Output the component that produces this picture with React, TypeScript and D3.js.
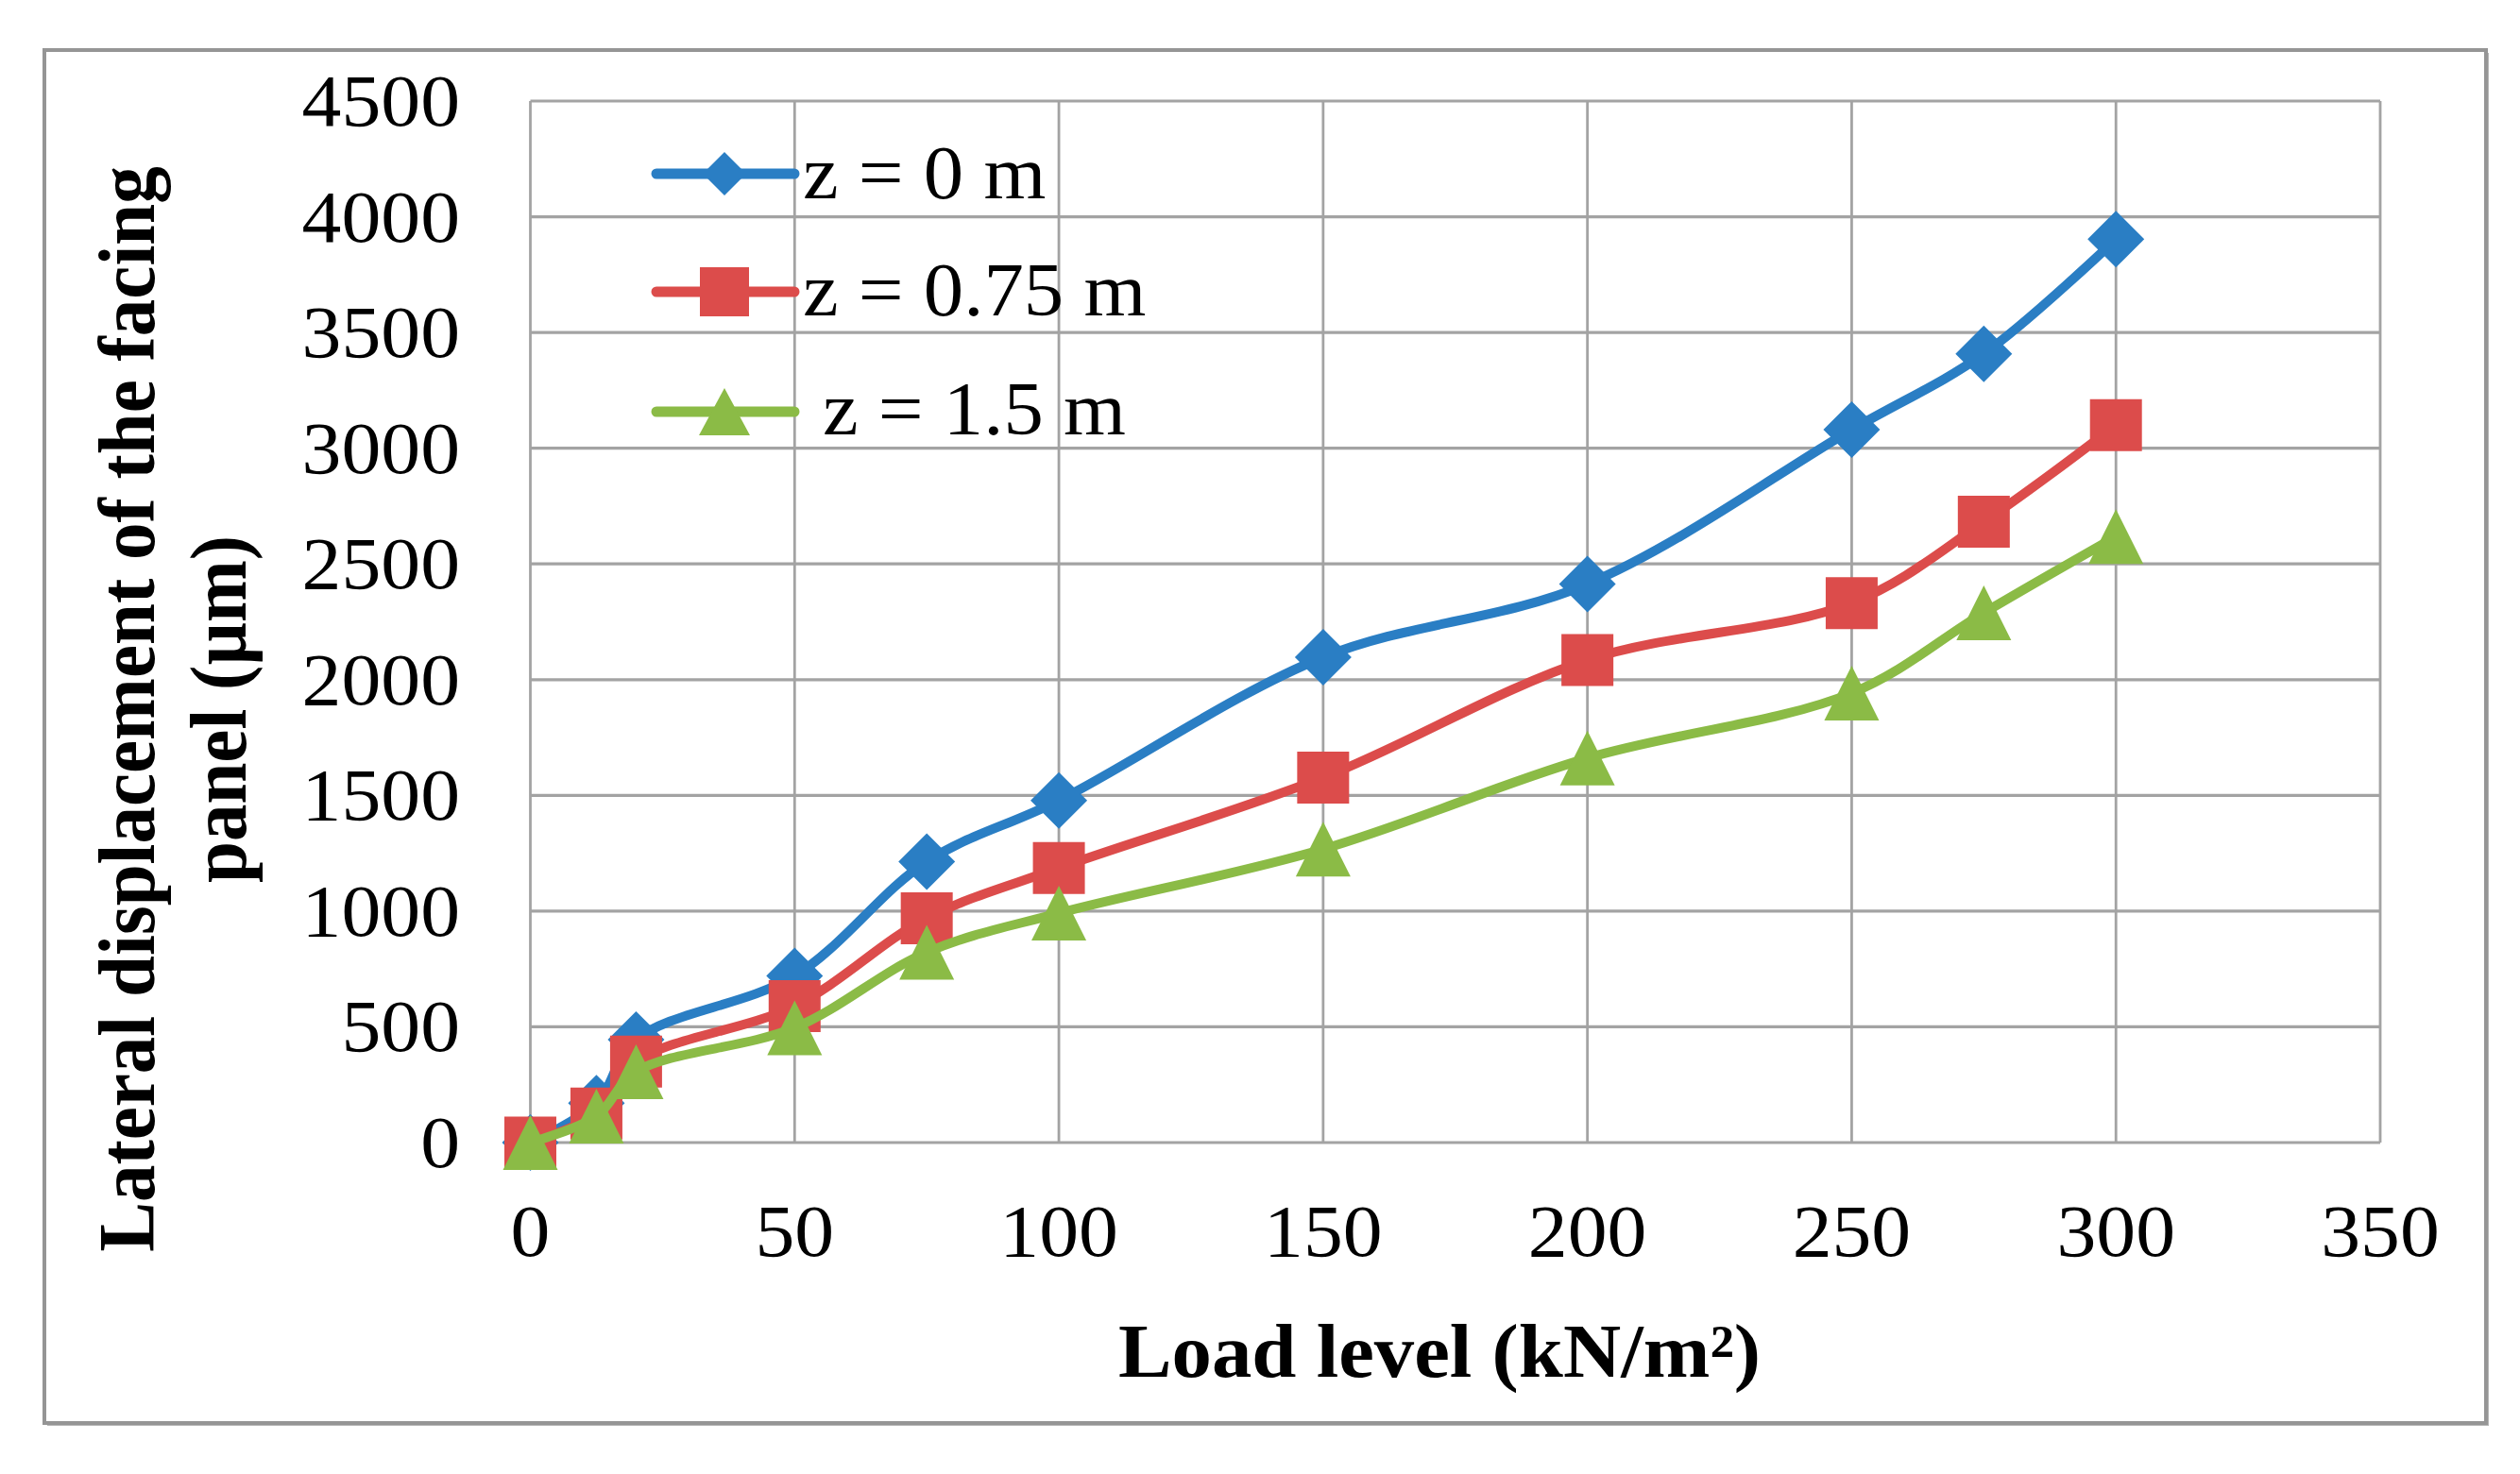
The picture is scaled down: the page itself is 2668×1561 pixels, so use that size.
import React from "react";
import * as d3 from "d3";

const loads = [0, 12.5, 20, 50, 75, 100, 150, 200, 250, 275, 300];
const z0 = [0, 170, 445, 720, 1214, 1478, 2097, 2413, 3080, 3408, 3903];
const z075 = [0, 125, 350, 590, 969, 1186, 1577, 2085, 2331, 2682, 3100];
const z15 = [0, 114, 306, 496, 822, 991, 1268, 1661, 1942, 2289, 2618];
const seriesNames = ["z = 0 m", "z = 0.75 m", "z = 1.5 m"];
const seriesColors = ["#2a7ec4", "#dc4c4b", "#8bbb46"];
const seriesMarkers = ["diamond", "square", "triangle"];
const xTicks = [0, 50, 100, 150, 200, 250, 300, 350];
const yTicks = [0, 500, 1000, 1500, 2000, 2500, 3000, 3500, 4000, 4500];
const xTitle = "Load level (kN/m²)";
const yTitle1 = "Lateral displacement of the facing";
const yTitle2 = "panel (µm)";

const W = 2668;
const H = 1561;
const FONT = "'Liberation Serif', 'Times New Roman', serif";
const SX = 1.06;

function markerPath(kind: string, big: boolean): string {
  if (kind === "diamond") {
    const r = big ? 30 : 23;
    return `M0,${-r}L${r},0L0,${r}L${-r},0Z`;
  }
  if (kind === "square") {
    const h = big ? 27.5 : 26;
    return `M${-h},${-h}L${h},${-h}L${h},${h}L${-h},${h}Z`;
  }
  const w = big ? 29 : 27;
  const t = big ? 29 : 25;
  return `M0,${-t}L${w},${t}L${-w},${t}Z`;
}

export default function App() {
  const x = d3.scaleLinear().domain([0, 350]).range([561.5, 2520]);
  const y = d3.scaleLinear().domain([0, 4500]).range([1210, 107]);
  const allSeries = [z0, z075, z15];
  const line = d3
    .line<[number, number]>()
    .x((d) => x(d[0]))
    .y((d) => y(d[1]))
    .curve(d3.curveCatmullRom.alpha(0.5));

  const legendY = [184, 309, 436];
  const legendTextX = [850, 850, 871];
  const legendTextY = [210, 334, 460];

  return (
    <svg
      width={W}
      height={H}
      style={{ position: "absolute", left: 0, top: 0, display: "block", background: "#fff" }}
    >
      <rect x={0} y={0} width={W} height={H} fill="#ffffff" />
      <rect x={50} y={56} width={2585} height={1454} fill="#b5b5b5" />
      <rect x={47} y={53} width={2585} height={1454} fill="#ffffff" stroke="#959595" strokeWidth={4} />

      {/* gridlines */}
      {yTicks.map((v) => (
        <line key={"gy" + v} x1={x(0)} x2={x(350)} y1={y(v)} y2={y(v)} stroke="#a3a3a3" strokeWidth={3.2} />
      ))}
      {xTicks.map((v) => (
        <line key={"gx" + v} x1={x(v)} x2={x(v)} y1={y(0)} y2={y(4500)} stroke="#a3a3a3" strokeWidth={2.8} />
      ))}

      {/* y tick labels */}
      {yTicks.map((v) => (
        <text
          key={"ty" + v}
          transform={`translate(487,${y(v) + 26}) scale(${SX},1)`}
          textAnchor="end"
          fontFamily={FONT}
          fontSize={79}
          fill="#000"
        >
          {v}
        </text>
      ))}
      {/* x tick labels */}
      {xTicks.map((v) => (
        <text
          key={"tx" + v}
          transform={`translate(${x(v)},1330) scale(${SX},1)`}
          textAnchor="middle"
          fontFamily={FONT}
          fontSize={79}
          fill="#000"
        >
          {v}
        </text>
      ))}

      {/* series */}
      {allSeries.map((vals, si) => {
        const pts: [number, number][] = loads.map((l, i) => [l, vals[i]]);
        return (
          <g key={"s" + si}>
            <path d={line(pts) || ""} fill="none" stroke={seriesColors[si]} strokeWidth={10} strokeLinejoin="round" strokeLinecap="round" />
            {pts.map((p, i) => (
              <path
                key={i}
                d={markerPath(seriesMarkers[si], true)}
                transform={`translate(${x(p[0])},${y(p[1])})`}
                fill={seriesColors[si]}
              />
            ))}
          </g>
        );
      })}

      {/* legend */}
      {seriesNames.map((name, si) => (
        <g key={"lg" + si}>
          <line x1={695} x2={841} y1={legendY[si]} y2={legendY[si]} stroke={seriesColors[si]} strokeWidth={11} strokeLinecap="round" />
          <path d={markerPath(seriesMarkers[si], false)} transform={`translate(767,${legendY[si]})`} fill={seriesColors[si]} />
          <text
            transform={`translate(${legendTextX[si]},${legendTextY[si]}) scale(${SX},1)`}
            fontFamily={FONT}
            fontSize={80}
            fill="#000"
          >
            {name}
          </text>
        </g>
      ))}

      {/* axis titles */}
      <text
        transform={`translate(1524,1458) scale(${SX},1)`}
        textAnchor="middle"
        fontFamily={FONT}
        fontWeight="bold"
        fontSize={80}
        fill="#000"
      >
        {xTitle}
      </text>
      <text
        transform={`translate(162.5,751) scale(${SX},1) rotate(-90)`}
        textAnchor="middle"
        fontFamily={FONT}
        fontWeight="bold"
        fontSize={79}
        fill="#000"
      >
        {yTitle1}
      </text>
      <text
        transform={`translate(260,751) scale(${SX},1) rotate(-90)`}
        textAnchor="middle"
        fontFamily={FONT}
        fontWeight="bold"
        fontSize={79}
        fill="#000"
      >
        {yTitle2}
      </text>
    </svg>
  );
}
